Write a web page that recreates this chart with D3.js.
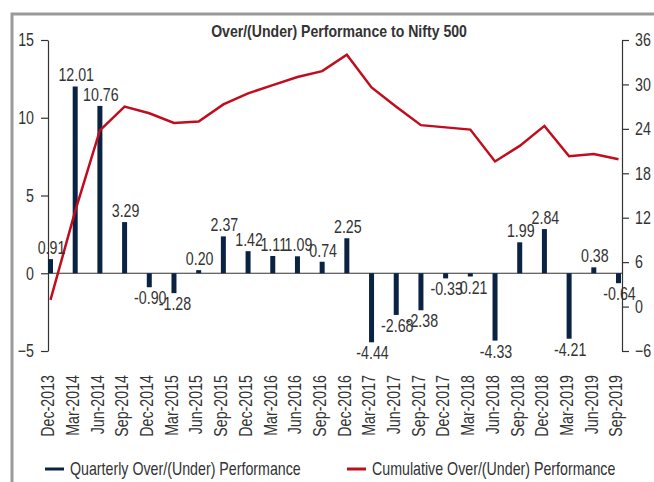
<!DOCTYPE html>
<html>
<head>
<meta charset="utf-8">
<script src="https://cdn.jsdelivr.net/npm/d3@7"></script>
<style>
  body { margin: 0; background: #fff; }
  svg { display: block; font-family: "Liberation Sans", Arial, sans-serif; }
</style>
</head>
<body>
<div id="chart"></div>
<script>
const width = 654;
const height = 482;

const quarters = ["Dec-2013", "Mar-2014", "Jun-2014", "Sep-2014", "Dec-2014", "Mar-2015",
  "Jun-2015", "Sep-2015", "Dec-2015", "Mar-2016", "Jun-2016", "Sep-2016", "Dec-2016",
  "Mar-2017", "Jun-2017", "Sep-2017", "Dec-2017", "Mar-2018", "Jun-2018", "Sep-2018",
  "Dec-2018", "Mar-2019", "Jun-2019", "Sep-2019"];

const quarterly = [0.91, 12.01, 10.76, 3.29, -0.90, -1.28, 0.20, 2.37, 1.42, 1.11, 1.09, 0.74,
  2.25, -4.44, -2.68, -2.38, -0.33, -0.21, -4.33, 1.99, 2.84, -4.21, 0.38, -0.64];

// cumulative
const cumulative = [0.9, 12.9, 23.8, 27.0, 26.1, 24.8, 25.0, 27.3, 28.8, 29.9, 31.0, 31.8,
  34.0, 29.6, 27.0, 24.5, 24.2, 23.9, 19.6, 21.7, 24.4, 20.3, 20.6, 19.9];

const leftTicks = [-5, 0, 5, 10, 15];
const rightTicks = [-6, 0, 6, 12, 18, 24, 30, 36];

const navy = "#0b2343";
const red = "#c00d1e";
const ink = "#333";

const axisLeftX = 48;
const axisRightX = 622;
const squeeze = 0.79; // fake a condensed face

const svg = d3.select("#chart").append("svg")
  .attr("width", width)
  .attr("height", height);

// outer frame (runs off the picture on right and bottom)
svg.append("rect")
  .attr("x", 12).attr("y", 14)
  .attr("width", 700).attr("height", 600)
  .attr("fill", "none")
  .attr("stroke", "#9a9a9a")
  .attr("stroke-width", 3);

const x = d3.scalePoint().domain(quarters).range([50.5, 618.5]);
const yL = d3.scaleLinear().domain([-5, 15]).range([351, 40]);
const yR = d3.scaleLinear().domain([-6, 36]).range([351, 40]);

svg.append("text")
  .attr("transform", "translate(339,36.5) scale(0.88,1)")
  .attr("text-anchor", "middle")
  .attr("font-size", "16px")
  .attr("font-weight", "bold")
  .attr("fill", ink)
  .text("Over/(Under) Performance to Nifty 500");

// left axis
const gl = svg.append("g")
  .attr("transform", "translate(" + axisLeftX + ",0)")
  .call(d3.axisLeft(yL).tickValues(leftTicks).tickSize(7).tickSizeOuter(0).tickPadding(7));

// right axis
const gr = svg.append("g")
  .attr("transform", "translate(" + axisRightX + ",0)")
  .call(d3.axisRight(yR).tickValues(rightTicks).tickSize(7).tickSizeOuter(0).tickPadding(6));

[gl, gr].forEach((g) => {
  g.selectAll("path, line").attr("stroke", ink).attr("stroke-width", 1.2);
  g.selectAll("text").each(function () {
    const t = d3.select(this);
    const tx = +t.attr("x");
    t.attr("x", 0)
      .attr("transform", "translate(" + tx + ",0) scale(" + squeeze + ",1)")
      .attr("font-size", "18px")
      .attr("font-family", "Liberation Sans, Arial, sans-serif")
      .attr("fill", ink);
  });
});

// zero line
svg.append("line")
  .attr("x1", axisLeftX).attr("x2", axisRightX)
  .attr("y1", yL(0)).attr("y2", yL(0))
  .attr("stroke", ink)
  .attr("stroke-width", 1.2);

// bars
const barW = 5;
svg.selectAll("rect.bar")
  .data(quarterly)
  .enter()
  .append("rect")
  .attr("class", "bar")
  .attr("x", (d, i) => x(quarters[i]) - barW / 2)
  .attr("y", (d) => yL(Math.max(0, d)))
  .attr("width", barW)
  .attr("height", (d) => Math.abs(yL(d) - yL(0)))
  .attr("fill", navy);

// cumulative line
const line = d3.line()
  .x((d, i) => x(quarters[i]))
  .y((d) => yR(d));

svg.append("path")
  .datum(cumulative)
  .attr("d", line)
  .attr("fill", "none")
  .attr("stroke", red)
  .attr("stroke-width", 2.5)
  .attr("stroke-linejoin", "miter");

// bar value labels
svg.selectAll("text.val")
  .data(quarterly)
  .enter()
  .append("text")
  .attr("class", "val")
  .attr("transform", (d, i) => {
    const ty = d >= 0 ? yL(d) - 5 : yL(d) + 17;
    return "translate(" + (x(quarters[i]) + 1) + "," + ty + ") scale(" + squeeze + ",1)";
  })
  .attr("text-anchor", "middle")
  .attr("font-size", "18px")
  .attr("fill", ink)
  .text((d) => d.toFixed(2));

// x labels, rotated
svg.selectAll("text.xlab")
  .data(quarters)
  .enter()
  .append("text")
  .attr("class", "xlab")
  .attr("transform", (d) => "translate(" + (x(d) - 2.5) + ",375) rotate(-90) scale(" + squeeze + ",1)")
  .attr("dy", "0.35em")
  .attr("text-anchor", "end")
  .attr("font-size", "18px")
  .attr("fill", ink)
  .text((d) => d);

// legend
const legend = [
  { label: "Quarterly Over/(Under) Performance", color: navy, x: 45 },
  { label: "Cumulative Over/(Under) Performance", color: red, x: 347 }
];
const lg = svg.selectAll("g.legend")
  .data(legend)
  .enter()
  .append("g")
  .attr("class", "legend")
  .attr("transform", (d) => "translate(" + d.x + ",469)");
lg.append("line")
  .attr("x1", 0).attr("x2", 19)
  .attr("stroke", (d) => d.color)
  .attr("stroke-width", 3);
lg.append("text")
  .attr("transform", "translate(25,0) scale(" + squeeze + ",1)")
  .attr("dy", "0.35em")
  .attr("font-size", "18px")
  .attr("fill", ink)
  .text((d) => d.label);
</script>
</body>
</html>
